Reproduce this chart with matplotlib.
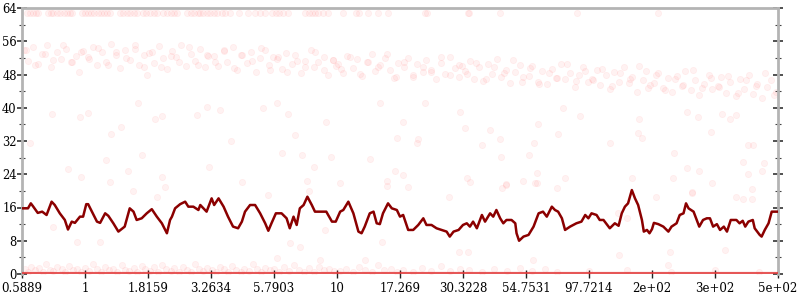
import matplotlib
matplotlib.use('Agg')
import numpy as np
import matplotlib.pyplot as plt
from matplotlib.ticker import MultipleLocator

# x positions are in tick-slot units (0 .. 12), labels below map the slots
tick_labels = ['0.5889', '1', '1.8159', '3.2634', '5.7903', '10', '17.269',
               '30.3228', '54.7531', '97.7214', '2e+02', '3e+02', '5e+02']

# smoothed trace
line_x = [0.0, 0.095, 0.14, 0.17, 0.25, 0.32, 0.39, 0.47, 0.52, 0.6, 0.68, 0.73, 0.79, 0.84,
          0.92, 0.97, 1.02, 1.05, 1.11, 1.19, 1.24, 1.32, 1.37, 1.45, 1.53, 1.58, 1.63, 1.71,
          1.77, 1.82, 1.9, 1.98, 2.06, 2.14, 2.22, 2.3, 2.35, 2.38, 2.43, 2.51, 2.59, 2.64,
          2.72, 2.8, 2.83, 2.93, 3.01, 3.05, 3.12, 3.2, 3.27, 3.35, 3.43, 3.49, 3.54, 3.62,
          3.7, 3.78, 3.86, 3.91, 3.96, 4.03, 4.12, 4.2, 4.25, 4.31, 4.36, 4.41, 4.47, 4.53,
          4.6, 4.65, 4.73, 4.83, 4.92, 4.98, 5.05, 5.1, 5.18, 5.26, 5.34, 5.39, 5.44, 5.52,
          5.58, 5.63, 5.68, 5.73, 5.81, 5.87, 5.95, 6.0, 6.05, 6.13, 6.21, 6.29, 6.37, 6.42,
          6.5, 6.58, 6.66, 6.74, 6.79, 6.85, 6.93, 7.0, 7.06, 7.11, 7.16, 7.22, 7.3, 7.35,
          7.43, 7.48, 7.53, 7.59, 7.64, 7.69, 7.77, 7.83, 7.85, 7.89, 7.96, 8.04, 8.12, 8.2,
          8.27, 8.33, 8.41, 8.46, 8.51, 8.57, 8.62, 8.7, 8.75, 8.8, 8.88, 8.94, 8.99, 9.04,
          9.12, 9.17, 9.23, 9.33, 9.41, 9.47, 9.52, 9.57, 9.62, 9.68, 9.73, 9.78, 9.84, 9.87,
          9.92, 9.96, 10.0, 10.03, 10.1, 10.18, 10.26, 10.31, 10.39, 10.44, 10.5, 10.54, 10.58,
          10.66, 10.71, 10.75, 10.81, 10.87, 10.92, 10.97, 11.03, 11.08, 11.14, 11.19, 11.25,
          11.34, 11.39, 11.44, 11.48, 11.53, 11.6, 11.63, 11.71, 11.74, 11.79, 11.85, 11.9, 12.0]
line_y = [15.8, 15.8, 17.0, 16.4, 14.7, 15.0, 14.2, 17.4, 16.6, 14.6, 13.0, 10.7, 12.6, 12.3,
          13.8, 13.8, 16.8, 16.8, 15.0, 12.6, 12.3, 14.6, 14.0, 12.2, 10.2, 10.8, 11.4, 15.8,
          15.0, 13.0, 13.4, 14.6, 15.6, 13.8, 12.2, 9.8, 13.0, 13.8, 15.8, 16.8, 17.4, 16.2,
          16.2, 15.4, 16.6, 15.0, 18.2, 16.6, 18.2, 16.2, 13.8, 11.4, 11.0, 12.6, 15.0, 16.6,
          16.6, 14.6, 12.2, 10.4, 12.2, 14.6, 14.6, 13.4, 11.0, 13.8, 11.8, 15.8, 16.6, 18.6,
          16.6, 15.0, 15.0, 15.0, 12.6, 12.6, 15.0, 15.4, 17.4, 14.6, 10.2, 9.8, 11.4, 14.6,
          15.0, 12.2, 12.0, 14.6, 17.0, 15.8, 15.4, 13.8, 14.2, 10.6, 10.6, 11.8, 13.4, 11.8,
          11.8, 11.0, 10.6, 10.2, 9.0, 10.2, 10.6, 11.8, 12.2, 11.4, 12.6, 11.0, 14.2, 12.6,
          14.6, 13.8, 15.4, 13.4, 12.2, 13.0, 13.0, 12.2, 9.8, 8.0, 9.0, 9.4, 11.4, 14.6,
          15.0, 13.8, 16.2, 15.4, 15.0, 13.4, 10.6, 11.4, 11.8, 12.2, 12.6, 14.2, 13.4, 14.6,
          14.2, 13.0, 13.0, 11.0, 12.2, 11.6, 14.6, 16.2, 17.0, 20.2, 18.2, 16.6, 13.0, 10.2,
          10.6, 9.8, 10.8, 12.3, 12.0, 11.4, 10.2, 11.4, 12.2, 14.2, 14.6, 17.0, 15.8,
          15.0, 13.0, 11.4, 13.0, 13.4, 13.4, 11.4, 12.0, 10.6, 11.4, 10.2, 13.0,
          13.0, 12.2, 12.8, 11.4, 12.6, 13.0, 11.0, 9.4, 9.0, 10.6, 12.2, 15.0, 15.0]

# raw samples: saturated readings near the top
top_x = [0.08, 0.12, 0.17, 0.22, 0.25, 0.41, 0.46, 0.5, 0.55, 0.6, 0.66, 0.71, 0.76, 0.79,
         0.95, 1.0, 1.04, 1.09, 1.14, 1.2, 1.25, 1.3, 1.35, 1.4, 1.56, 1.61, 1.67, 1.72,
         1.78, 1.83, 1.92, 1.97, 2.03, 2.09, 2.14, 2.24, 2.3, 2.36, 2.41, 2.46, 2.62, 2.68,
         2.73, 2.79, 2.83, 2.88, 2.94, 2.99, 3.04, 3.1, 3.17, 3.22, 3.3, 3.45, 3.58, 3.7,
         3.77, 3.85, 3.97, 4.03, 4.08, 4.14, 4.22, 4.5, 4.55, 4.6, 4.65, 4.7, 4.78, 4.86,
         5.1, 5.3, 5.35, 5.5, 5.65, 5.81, 6.4, 6.43, 7.08, 7.1, 7.59, 8.81, 10.1]
top_y = [62.9] * len(top_x)

# raw samples: main upper band
band_x = [0.03, 0.1, 0.18, 0.25, 0.31, 0.4, 0.46, 0.55, 0.62, 0.7, 0.77, 0.85, 0.91, 0.97,
          1.04, 1.12, 1.19, 1.27, 1.33, 1.41, 1.5, 1.56, 1.64, 1.71, 1.79, 1.86, 1.93, 1.98,
          2.02, 2.09, 2.17, 2.24, 2.3, 2.38, 2.45, 2.53, 2.6, 2.68, 2.74, 2.82, 2.9, 2.96,
          3.05, 3.11, 3.2, 3.26, 3.35, 3.42, 3.48, 3.57, 3.63, 3.72, 3.78, 3.85, 3.92, 3.99,
          4.04, 4.13, 4.19, 4.28, 4.34, 4.43, 4.49, 4.58, 4.64, 4.7, 4.79, 4.86, 4.93, 4.98,
          5.02, 5.1, 5.16, 5.25, 5.32, 5.4, 5.47, 5.55, 5.61, 5.69, 5.76, 5.84, 5.9, 5.97,
          6.06, 6.12, 6.21, 6.27, 6.36, 6.42, 6.5, 6.57, 6.65, 6.71, 6.8, 6.87, 6.93, 6.99,
          7.03, 7.11, 7.18, 7.26, 7.31, 7.39, 7.46, 7.54, 7.61, 7.69, 7.75, 7.83, 7.9, 7.96,
          8.04, 8.1, 8.19, 8.25, 8.33, 8.41, 8.47, 8.56, 8.62, 8.7, 8.77, 8.84, 8.91, 8.98,
          9.05, 9.12, 9.18, 9.27, 9.34, 9.4, 9.48, 9.55, 9.63, 9.69, 9.76, 9.85, 9.91, 9.97,
          10.03, 10.1, 10.17, 10.26, 10.32, 10.4, 10.47, 10.53, 10.62, 10.68, 10.75, 10.83, 10.9, 10.96,
          11.04, 11.1, 11.18, 11.24, 11.33, 11.39, 11.46, 11.54, 11.6, 11.67, 11.75, 11.82, 11.89, 11.97]
band_y = [53.8, 51.2, 54.5, 50.6, 52.9, 55.1, 49.8, 53.3, 51.7, 54.2, 50.9, 52.4, 48.7, 53.6,
          52.1, 54.7, 50.3, 53.5, 51.0, 55.3, 52.6, 49.6, 53.9, 51.5, 54.1, 50.2, 52.8, 47.9,
          53.2, 50.7, 54.8, 51.9, 49.4, 53.7, 52.3, 55.0, 50.1, 52.9, 51.3, 54.2, 49.8, 52.5,
          52.4, 50.0, 53.8, 51.1, 54.6, 49.2, 52.7, 50.8, 53.3, 48.6, 51.9, 54.0, 50.4, 52.2,
          51.8, 49.3, 53.1, 50.5, 52.6, 48.4, 51.2, 53.9, 49.7, 50.9, 52.3, 47.8, 51.5, 50.1,
          50.6, 48.3, 52.4, 49.5, 51.7, 47.6, 50.9, 53.0, 48.8, 50.2, 51.9, 49.1, 47.2, 50.7,
          49.9, 52.0, 47.8, 50.6, 48.5, 51.4, 49.2, 46.9, 50.8, 48.1, 52.3, 49.6, 47.4, 50.0,
          48.9, 51.3, 47.0, 49.8, 46.4, 50.5, 48.2, 51.7, 47.5, 49.1, 45.9, 48.6, 50.2, 47.3,
          47.6, 50.1, 46.3, 48.8, 45.7, 49.4, 47.1, 50.6, 46.8, 48.3, 44.9, 47.9, 49.7, 46.2,
          46.9, 49.2, 45.4, 47.8, 44.6, 48.5, 46.3, 49.7, 45.9, 47.4, 43.8, 46.7, 48.9, 45.5,
          46.0, 48.4, 44.7, 47.1, 43.9, 47.6, 45.3, 48.8, 44.2, 46.6, 43.1, 45.8, 47.9, 44.5,
          45.2, 47.5, 43.6, 46.2, 42.9, 46.8, 44.4, 47.9, 43.3, 45.7, 42.4, 44.9, 46.6, 43.7]

# more samples in the same band
band2_x = [0.07, 0.21, 0.36, 0.5, 0.65, 0.8, 0.93, 1.07, 1.21, 1.36, 1.5, 1.65, 1.8, 1.93,
           2.07, 2.21, 2.36, 2.5, 2.65, 2.8, 2.93, 3.07, 3.21, 3.36, 3.5, 3.65, 3.8, 3.93,
           4.07, 4.21, 4.36, 4.5, 4.65, 4.8, 4.93, 5.07, 5.21, 5.36, 5.5, 5.65, 5.8, 5.93,
           6.07, 6.21, 6.36, 6.5, 6.65, 6.8, 6.93, 7.07, 7.21, 7.36, 7.5, 7.65, 7.8, 7.93,
           8.07, 8.21, 8.36, 8.5, 8.65, 8.8, 8.93, 9.07, 9.21, 9.36, 9.5, 9.65, 9.8, 9.93,
           10.07, 10.21, 10.36, 10.5, 10.65, 10.8, 10.93, 11.07, 11.21, 11.36, 11.5, 11.65, 11.8, 11.93]
band2_y = [54.0, 50.3, 52.9, 51.6, 55.1, 50.9, 53.3, 51.7, 54.4, 50.4, 53.4, 52.0, 55.2, 49.8,
           53.5, 49.8, 52.4, 51.1, 54.6, 50.4, 52.8, 50.9, 53.6, 49.6, 52.6, 51.2, 54.4, 49.0,
           52.3, 48.6, 51.2, 49.9, 53.4, 49.2, 51.6, 49.4, 52.1, 48.1, 51.1, 49.7, 52.9, 47.5,
           51.0, 47.3, 49.9, 48.6, 52.1, 47.9, 50.3, 48.1, 50.8, 46.8, 49.8, 48.4, 51.6, 46.2,
           49.5, 45.8, 48.4, 47.1, 50.6, 46.4, 48.8, 46.6, 49.3, 45.3, 48.3, 46.9, 50.1, 44.7,
           47.9, 44.2, 46.8, 45.5, 49.0, 44.8, 47.2, 44.9, 47.6, 43.6, 46.6, 45.2, 48.4, 43.0]

# raw samples: scattered outliers
sparse_x = [0.47, 0.92, 1.04, 1.84, 1.42, 1.57, 2.11, 2.22, 2.78, 2.93, 3.14, 3.83, 4.04, 4.22,
            4.82, 4.33, 3.31, 0.13, 5.95, 5.68, 1.33, 1.9, 4.12, 4.44, 4.9, 5.52, 0.73, 1.68,
            2.97, 4.64, 5.92, 0.93, 2.22, 3.49, 4.52, 5.79, 5.8, 1.4, 2.27, 1.76, 5.05, 4.56,
            3.9, 2.15, 6.05, 6.4, 6.95, 7.03, 7.43, 7.3, 7.59, 7.6, 6.27, 6.29, 8.19, 8.12,
            8.05, 8.51, 8.86, 8.58, 9.34, 9.78, 9.79, 9.84, 10.35, 10.93, 10.73, 10.55, 11.11,
            11.33, 11.24, 11.52, 11.61, 11.45, 11.77, 11.74, 11.53, 10.95, 10.64, 10.33, 10.75,
            10.56, 10.07, 9.68, 8.62, 8.49, 8.17, 8.18, 7.95, 7.68, 7.11, 7.06, 6.78, 6.13,
            6.04, 11.58, 0.49, 0.87, 1.24, 4.81, 4.25, 4.41, 4.05, 5.71, 5.44, 4.73, 6.93,
            7.08, 8.11, 7.62, 7.69, 8.14, 9.47, 10.29, 10.26, 11.16, 11.34, 11.45, 11.58,
            10.63, 9.46, 9.6]
sparse_y = [38.5, 37.8, 38.7, 41.1, 33.7, 35.4, 37.3, 38.0, 38.2, 40.2, 39.5, 39.9, 41.1, 38.5,
            36.6, 33.4, 32.0, 31.6, 32.7, 41.1, 27.4, 28.6, 29.1, 28.6, 28.1, 27.7, 25.2, 24.9,
            25.8, 25.7, 24.9, 23.3, 23.3, 22.2, 22.4, 22.4, 21.2, 22.1, 20.9, 20.0, 22.0, 20.0,
            19.0, 18.6, 36.6, 41.2, 39.0, 35.2, 34.6, 31.0, 32.4, 28.1, 31.4, 32.5, 36.0, 31.6,
            28.6, 33.7, 38.0, 39.9, 31.4, 34.0, 37.2, 32.7, 29.0, 34.1, 37.7, 38.9, 38.5,
            38.3, 37.2, 31.0, 31.0, 27.0, 26.8, 24.9, 24.1, 22.0, 19.7, 23.0, 24.9,
            25.6, 18.6, 23.0, 23.2, 20.8, 24.2, 22.0, 22.4, 21.6, 22.2, 23.0, 18.5, 20.9,
            23.8, 20.4, 11.4, 7.8, 7.8, 10.6, 7.5, 6.6, 3.8, 7.8, 3.4, 3.4, 5.4,
            5.4, 3.4, 20.6, 21.4, 21.8, 4.6, 5.4, 2.2, 5.8, 18.6, 18.0, 18.0,
            19.4, 14.6, 13.4]

# raw samples: low band just above zero
low_x = [0.04, 0.1, 0.15, 0.21, 0.27, 0.33, 0.38, 0.44, 0.5, 0.56, 0.63, 0.69, 0.75, 0.81, 0.88, 0.94,
         1.0, 1.07, 1.13, 1.19, 1.26, 1.32, 1.38, 1.45, 1.51, 1.58, 1.64, 1.7, 1.77, 1.83, 1.9, 1.96,
         2.03, 2.1, 2.16, 2.23, 2.29, 2.36, 2.42, 2.49, 2.55, 2.62, 2.68, 2.75, 2.81, 2.88, 2.94,
         3.01, 3.08, 3.14, 3.21, 3.27, 3.34, 3.4, 3.47, 3.53, 3.6, 3.66, 3.73, 3.8, 3.86, 3.93,
         4.0, 4.08, 4.16, 4.24, 4.32, 4.4, 4.48, 4.56, 4.64, 4.72, 4.8, 4.88, 4.96,
         5.05, 5.15, 5.25, 5.35, 5.45, 5.55, 5.65, 5.75, 5.85, 5.95,
         6.05, 6.2, 6.35, 6.5, 6.65, 6.8, 6.95, 7.1, 7.3, 7.5, 7.7, 7.9,
         8.1, 8.3, 8.5, 9.0, 9.6, 10.3, 11.0, 11.7]
low_y = [1.1, 0.6, 1.8, 0.9, 1.4, 0.4, 2.3, 1.0, 0.7, 1.6, 1.2, 0.5, 2.0, 0.9, 1.3, 0.6,
         1.5, 0.8, 2.5, 1.1, 0.4, 1.7, 0.9, 1.3, 0.6, 2.1, 1.0, 0.7, 1.4, 0.5, 1.9, 1.2,
         0.8, 1.6, 0.5, 2.2, 1.1, 0.7, 1.4, 0.4, 1.8, 1.0, 0.6, 2.4, 1.2, 0.8, 1.5,
         0.9, 0.5, 1.7, 1.2, 0.6, 2.0, 1.0, 0.4, 1.3, 0.8, 2.3, 1.1, 0.6, 1.5, 0.9,
         1.2, 0.5, 1.6, 0.8, 2.1, 1.0, 0.6, 1.4, 0.4, 1.8, 0.9, 1.1, 0.7,
         0.8, 1.3, 0.5, 1.7, 1.0, 0.6, 2.2, 0.9, 1.2, 0.5,
         1.0, 0.6, 1.4, 0.8, 1.9, 0.7, 1.1, 0.9, 0.5, 1.2, 0.7, 1.5,
         0.8, 1.1, 0.6, 0.7, 1.0, 0.5, 0.9, 0.6]

# zero readings (many overlapping samples on the baseline)
zero_x = [0.0, 12.0]
zero_y = [0.0, 0.0]

plt.rcParams['font.family'] = ['DejaVu Serif']

fig = plt.figure(figsize=(8, 3), dpi=100)
ax = fig.add_axes([22 / 800, 26 / 300, 756 / 800, 266 / 300])

pt_color = '#ff3030'
groups = [(top_x, top_y), (band_x, band_y), (band2_x, band2_y),
          (sparse_x, sparse_y), (low_x, low_y)]
for xs, ys in groups:
    ax.scatter(xs, ys, s=20, color=pt_color, alpha=0.06, linewidths=0.6, zorder=2)
ax.plot(zero_x, zero_y, color='#e23a3a', lw=3, alpha=0.85, zorder=3, solid_capstyle='butt')
ax.plot(line_x, line_y, color='#8b0000', lw=1.8, zorder=4)

ax.set_xlim(0, 12)
ax.set_ylim(0, 64)
ax.set_xticks(range(len(tick_labels)))
ax.set_xticklabels(tick_labels)
ax.yaxis.set_major_locator(MultipleLocator(8))
ax.yaxis.set_minor_locator(MultipleLocator(4))

for side in ['left', 'right', 'top']:
    ax.spines[side].set_color('#b4b4b4')
    ax.spines[side].set_linewidth(2)
ax.spines['bottom'].set_visible(False)

ax.tick_params(axis='y', which='major', direction='inout', length=6.5, width=1.1,
               color='#222222', labelsize=8.3, pad=0.5, right=True)
ax.tick_params(axis='y', which='minor', direction='inout', length=3.8, width=0.8,
               color='#444444', right=True)
ax.tick_params(axis='x', which='major', direction='inout', length=5.8, width=1.0,
               color='#222222', labelsize=8.5, pad=3)

fig.savefig('out.png', dpi=100)
